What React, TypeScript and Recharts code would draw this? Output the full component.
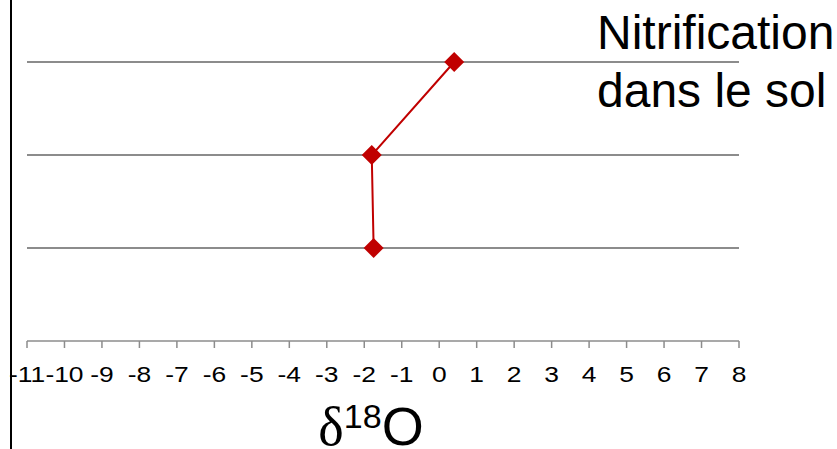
import { LineChart, Line, XAxis, YAxis, ReferenceLine } from 'recharts';

// δ18O values (x) against the three sampling levels (y)
const delta18O = [0.4, -1.8, -1.75];
const levels = [3, 2, 1];
const gridLevels = [1, 2, 3];
const xTicks = [-11, -10, -9, -8, -7, -6, -5, -4, -3, -2, -1, 0, 1, 2, 3, 4, 5, 6, 7, 8];
const title = ['Nitrification', 'dans le sol'];

const data = delta18O.map((x, i) => ({ x, y: levels[i] }));

const FONT = '"Liberation Sans", Arial, sans-serif';
const RED = '#C00000';

const Diamond = (props: any) => {
  const { cx, cy } = props;
  if (cx == null || cy == null) return null;
  const r = 10;
  return (
    <path
      d={`M${cx},${cy - r}L${cx + r},${cy}L${cx},${cy + r}L${cx - r},${cy}Z`}
      fill={RED}
      stroke='none'
    />
  );
};

// tick labels in the original are a bit wider than plain Arial
const Tick = (props: any) => {
  const { x, y, payload } = props;
  return (
    <text
      transform={`translate(${x},${y + 14}) scale(1.2,1)`}
      x={0}
      y={0}
      textAnchor='middle'
      fill='#000'
      fontSize={22}
      fontFamily={FONT}
    >
      {payload.value}
    </text>
  );
};

const AxisLabel = (props: any) => {
  const { viewBox } = props;
  const cx = viewBox.x + viewBox.width / 2 - 12;
  return (
    <text x={cx} y={445} textAnchor='middle' fill='#000' fontFamily={FONT}>
      <tspan fontFamily='"Liberation Serif", serif' fontSize={54}>δ</tspan>
      <tspan fontSize={34} dy={-17}>18</tspan>
      <tspan fontSize={54} dy={17}>O</tspan>
    </text>
  );
};

const App = () => {
  return (
    <div style={{ position: 'absolute', left: 0, top: 0, width: 837, height: 449, background: '#fff' }}>
      <div style={{ position: 'absolute', left: 10, top: 0, width: 2, height: 449, background: '#000' }} />
      <LineChart
        width={837}
        height={449}
        data={data}
        margin={{ top: 15.5, right: 98, bottom: 0, left: 27 }}
      >
        <XAxis
          type='number'
          dataKey='x'
          domain={[-11, 8]}
          ticks={xTicks}
          interval={0}
          height={108}
          tickSize={7}
          tickMargin={20}
          axisLine={{ stroke: '#8c8c8c', strokeWidth: 1.5 }}
          tickLine={{ stroke: '#8c8c8c', strokeWidth: 1.5 }}
          tick={<Tick />}
          label={<AxisLabel />}
        />
        <YAxis type='number' domain={[0, 3.5]} hide />
        {gridLevels.map((g) => (
          <ReferenceLine key={g} y={g} stroke='#8c8c8c' strokeWidth={2} />
        ))}
        <Line
          type='linear'
          dataKey='y'
          stroke={RED}
          strokeWidth={2}
          dot={<Diamond />}
          activeDot={false}
          isAnimationActive={false}
        />
      </LineChart>
      <div
        style={{
          position: 'absolute',
          left: 597,
          top: 4,
          fontFamily: FONT,
          fontSize: 48,
          lineHeight: '58px',
          color: '#000',
          whiteSpace: 'nowrap',
        }}
      >
        {title.map((t) => (
          <div key={t}>{t}</div>
        ))}
      </div>
    </div>
  );
};

export default App;
